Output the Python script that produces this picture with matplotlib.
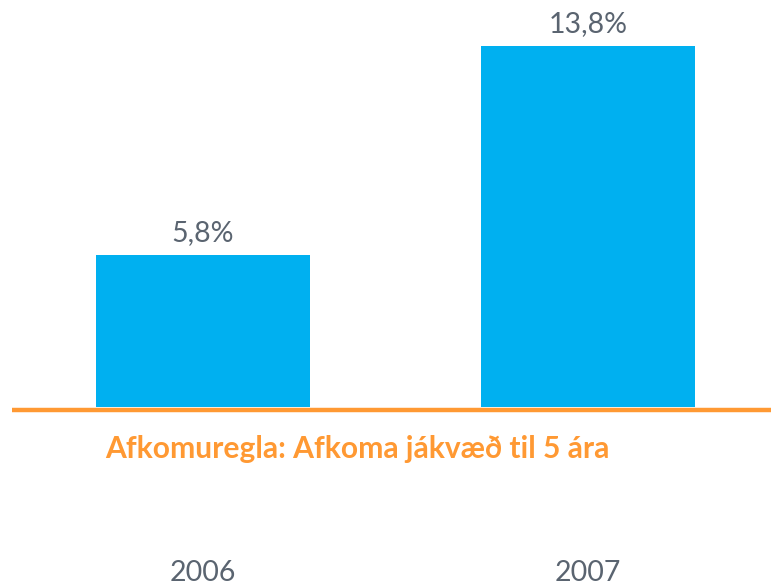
import matplotlib.pyplot as plt

years = ["2006", "2007"]
values = [5.8, 13.8]
value_labels = ["5,8%", "13,8%"]
rule_text = "Afkomuregla: Afkoma jákvæð til 5 ára"

BLUE = "#00B0F0"
ORANGE = "#FF9933"
GRAY = "#5A6470"

plt.rcParams['font.family'] = ['Lato', 'DejaVu Sans']

fig = plt.figure(figsize=(7.71, 5.88), dpi=100)
ax = fig.add_axes([10.5 / 771, 181 / 588, 770 / 771, 392 / 588])

x = list(range(len(years)))
bars = ax.bar(x, values, width=0.556, color=BLUE, zorder=2)
for xi, v, lab in zip(x, values, value_labels):
    ax.text(xi, v + 0.35, lab, ha="center", va="bottom", fontsize=20.5, color=GRAY)

ax.set_xlim(-0.5, 1.5)
ax.set_ylim(0, 15)
ax.plot([-0.495, 1.48], [-0.12, -0.12], color=ORANGE, lw=3.2, clip_on=False, zorder=3,
        solid_capstyle="butt")

ax.set_xticks(x)
ax.set_xticklabels(years, fontsize=20.5, color=GRAY)
ax.tick_params(axis="x", length=0, pad=110.5)
ax.set_yticks([])
for s in ax.spines.values():
    s.set_visible(False)

fig.text(105 / 771, 1 - 449 / 588, rule_text, ha="left", va="center",
         fontsize=21.6, fontweight="bold", color=ORANGE)

fig.savefig("out.png", dpi=100)
